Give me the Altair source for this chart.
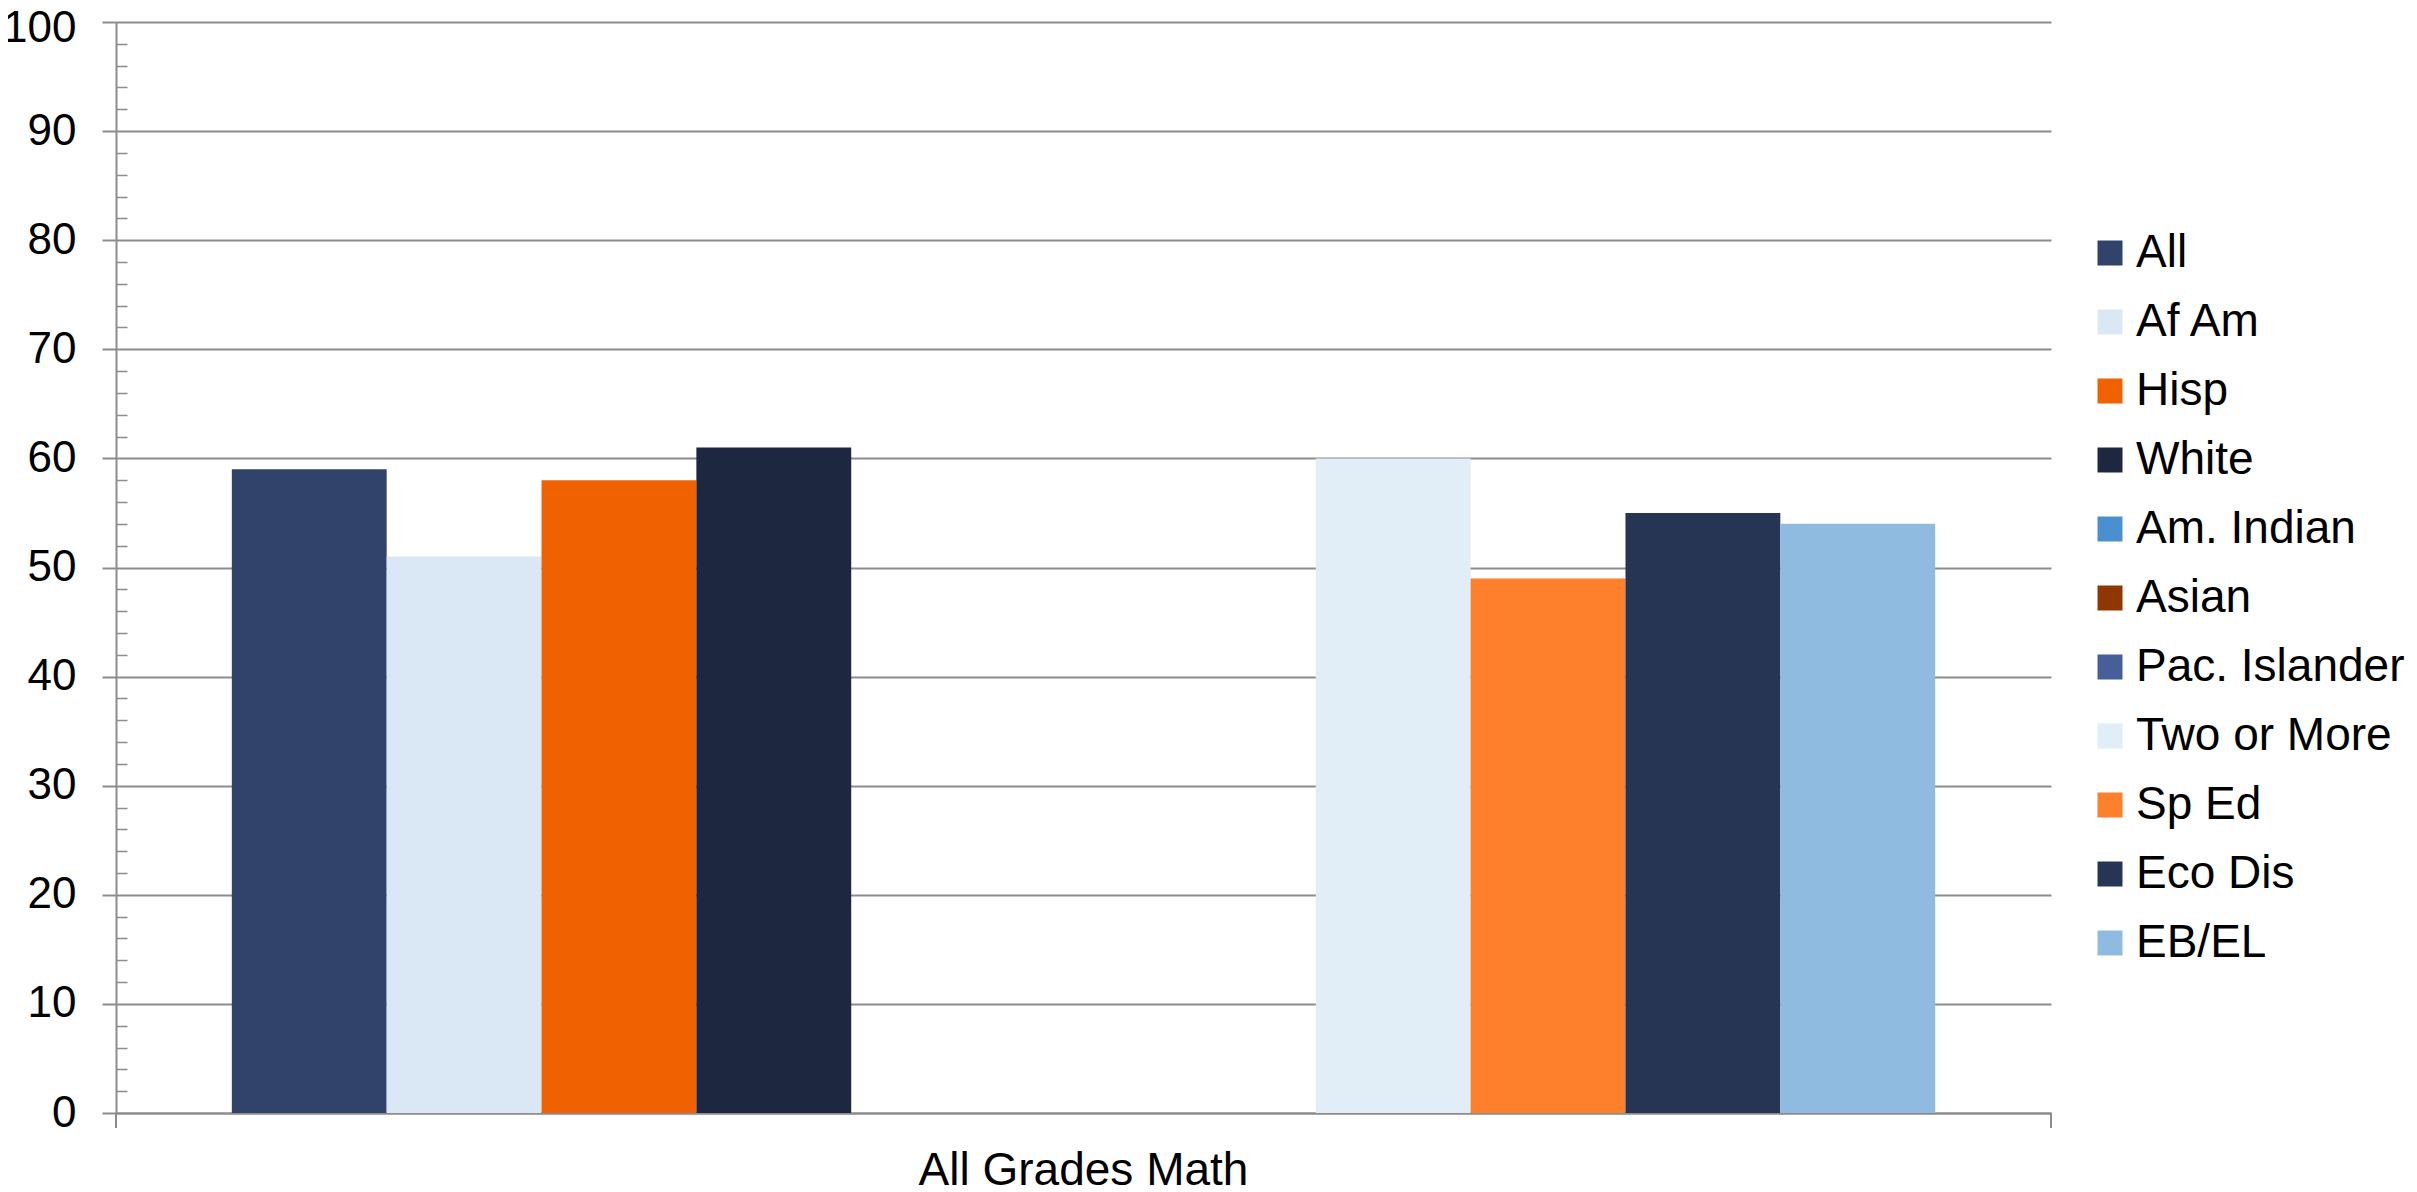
import altair as alt
import pandas as pd

category = "All Grades Math"
series = ["All", "Af Am", "Hisp", "White", "Am. Indian", "Asian",
          "Pac. Islander", "Two or More", "Sp Ed", "Eco Dis", "EB/EL"]
values = [59, 51, 58, 61, None, None, None, 60, 49, 55, 54]
colors = ["#31436A", "#DAE8F5", "#F06101", "#1E2740", "#4A8FD0", "#8E3703",
          "#465F99", "#E1EDF7", "#FE7F2C", "#263554", "#90BBE0"]
major_ticks = [0, 10, 20, 30, 40, 50, 60, 70, 80, 90, 100]
minor_ticks = [v for v in range(0, 101, 2) if v % 10 != 0]

W, H = 1935, 1091
FONT = "Liberation Sans"
GRAY = "#8C8C8C"

df = pd.DataFrame({"category": [category] * len(series),
                   "series": series, "value": values})

bars = alt.Chart(df).mark_bar().encode(
    x=alt.X("category:N",
            scale=alt.Scale(paddingInner=0, paddingOuter=0.068),
            axis=alt.Axis(title=None, labelAngle=0, ticks=False,
                          domain=True, domainColor=GRAY, domainWidth=2,
                          labelFont=FONT, labelFontSize=46, labelColor="black",
                          labelPadding=35, labelLimit=1000)),
    xOffset=alt.XOffset("series:N", sort=series,
                        scale=alt.Scale(domain=series, paddingInner=0, paddingOuter=0)),
    y=alt.Y("value:Q",
            scale=alt.Scale(domain=[0, 100], nice=False),
            axis=alt.Axis(title=None, values=major_ticks, grid=True,
                          gridColor=GRAY, gridWidth=2,
                          domain=True, domainColor=GRAY, domainWidth=2,
                          tickColor=GRAY, tickSize=14, tickWidth=2,
                          labelFont=FONT, labelFontSize=44, labelColor="black",
                          labelPadding=26,
                          labelOffset={"condition": {"test": "datum.value == 100", "value": 6},
                                       "value": 0})),
    color=alt.Color("series:N", sort=series,
                    scale=alt.Scale(domain=series, range=colors),
                    legend=alt.Legend(title=None, orient="none",
                                      legendX=1971, legendY=208,
                                      symbolType="square", symbolSize=625,
                                      symbolStrokeWidth=0,
                                      labelFont=FONT, labelFontSize=46,
                                      labelColor="black", labelOffset=3,
                                      rowPadding=23, padding=0,
                                      labelLimit=400)),
)

minor = alt.Chart(df).mark_point(opacity=0).encode(
    y=alt.Y("value:Q",
            scale=alt.Scale(domain=[0, 100], nice=False),
            axis=alt.Axis(title=None, orient="right", offset=-W,
                          values=minor_ticks, labels=False, domain=False,
                          grid=False, tickColor=GRAY, tickSize=11,
                          tickWidth=1.5)),
)

tick_df = pd.DataFrame({"k": [0]})
left_tick = alt.Chart(tick_df).mark_rule(color=GRAY, strokeWidth=2).encode(
    x=alt.value(0), y=alt.value(H), y2=alt.value(H + 15))
right_tick = alt.Chart(tick_df).mark_rule(color=GRAY, strokeWidth=2).encode(
    x=alt.value(W), y=alt.value(H), y2=alt.value(H + 15))

chart = alt.layer(bars, minor, left_tick, right_tick).resolve_scale(
    y="independent"
).properties(
    width=W, height=H,
    autosize=alt.AutoSizeParams(type="none"),
    padding={"left": 108, "top": 14, "right": 358, "bottom": 84},
).configure_view(stroke=None)

chart.save("out.html", embed_options={"renderer": "svg", "actions": False})
